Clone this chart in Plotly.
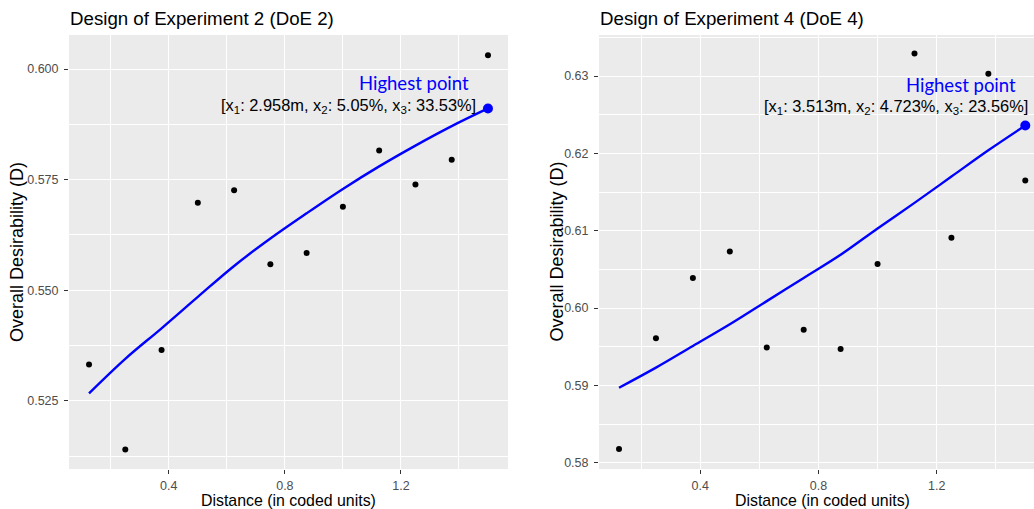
import plotly.graph_objects as go

# ---- data ----
x_coded = [0.125, 0.25, 0.375, 0.5, 0.625, 0.75, 0.875, 1.0, 1.125, 1.25, 1.375, 1.5]
doe2_D = [0.5332, 0.5140, 0.5365, 0.5698, 0.5726, 0.5559, 0.5584, 0.5689, 0.5816, 0.5739, 0.5795, 0.6031]
doe2_fit = [0.5267, 0.5345, 0.5414, 0.5485, 0.5555, 0.5617, 0.5674, 0.5729, 0.5780, 0.5827, 0.5871, 0.5911]
doe4_D = [0.5818, 0.5961, 0.6039, 0.6073, 0.5949, 0.5972, 0.5947, 0.6057, 0.6329, 0.6091, 0.6303, 0.6165]
doe4_fit = [0.5897, 0.5923, 0.5951, 0.5979, 0.6009, 0.6039, 0.6069, 0.6103, 0.6136, 0.6170, 0.6204, 0.6236]

x_ticks = [0.4, 0.8, 1.2]
x_minor = [0.2, 0.6, 1.0, 1.4]
doe2_yticks = [0.525, 0.550, 0.575, 0.600]
doe2_yminor = [0.5125, 0.5375, 0.5625, 0.5875]
doe4_yticks = [0.58, 0.59, 0.60, 0.61, 0.62, 0.63]
doe4_yminor = [0.585, 0.595, 0.605, 0.615, 0.625, 0.635]

titles = ["Design of Experiment 2 (DoE 2)", "Design of Experiment 4 (DoE 4)"]
best_labels = ["[x<sub>1</sub>: 2.958m, x<sub>2</sub>: 5.05%, x<sub>3</sub>: 33.53%]",
               "[x<sub>1</sub>: 3.513m, x<sub>2</sub>: 4.723%, x<sub>3</sub>: 23.56%]"]

W, H = 1034, 509
BG = "#EBEBEB"
FONT = "Liberation Sans, Arial, sans-serif"

fig = go.Figure()

panels = [
    dict(D=doe2_D, fit=doe2_fit, xa="x", ya="y", yt=doe2_yticks, ym=doe2_yminor,
         yfmt=".3f", xr=[0.056, 1.569], yr=[0.5096, 0.6077], dom=[69 / W, 508 / W]),
    dict(D=doe4_D, fit=doe4_fit, xa="x2", ya="y2", yt=doe4_yticks, ym=doe4_yminor,
         yfmt=".2f", xr=[0.0572, 1.5295], yr=[0.5792, 0.6353], dom=[599 / W, 1.0]),
]

for p in panels:
    fig.add_trace(go.Scatter(x=x_coded, y=p["fit"], mode="lines", xaxis=p["xa"], yaxis=p["ya"],
                             line=dict(color="#0000FF", width=2.4, shape="spline"),
                             showlegend=False, hoverinfo="skip"))
    fig.add_trace(go.Scatter(x=x_coded, y=p["D"], mode="markers", xaxis=p["xa"], yaxis=p["ya"],
                             marker=dict(color="black", size=6), showlegend=False))
    fig.add_trace(go.Scatter(x=[x_coded[-1]], y=[p["fit"][-1]], mode="markers",
                             xaxis=p["xa"], yaxis=p["ya"],
                             marker=dict(color="#0000FF", size=10), showlegend=False))

tick_font = dict(family=FONT, size=12.5, color="#4D4D4D")

for i, p in enumerate(panels):
    sx = "" if i == 0 else "2"
    fig.update_layout(**{
        "xaxis" + sx: dict(showline=False, zeroline=False, gridcolor="white", gridwidth=1.1,
                           ticks="outside", ticklen=4, tickcolor="#333333", tickwidth=1,
                           tickfont=tick_font,
                           domain=p["dom"], range=p["xr"], anchor="y" + sx,
                           tickmode="array", tickvals=x_ticks,
                           ticktext=[f"{v:.1f}" for v in x_ticks], ticklabelstandoff=1,
                           minor=dict(tickmode="array", tickvals=x_minor, showgrid=True,
                                      gridcolor="white", gridwidth=0.55, ticks="")),
        "yaxis" + sx: dict(showline=False, zeroline=False, gridcolor="white", gridwidth=1.1,
                           ticks="outside", ticklen=4, tickcolor="#333333", tickwidth=1,
                           tickfont=tick_font,
                           domain=[0, 1], range=p["yr"], anchor="x" + sx,
                           tickmode="array", tickvals=p["yt"], ticklabelstandoff=3,
                           ticktext=[format(v, p["yfmt"]) for v in p["yt"]],
                           minor=dict(tickmode="array", tickvals=p["ym"], showgrid=True,
                                      gridcolor="white", gridwidth=0.55, ticks="")),
    })

annotations = []
# panel titles
for t, x0 in zip(titles, [68, 598]):
    annotations.append(dict(text=t, xref="paper", yref="paper", x=x0 / W, y=1 + 17 / 434,
                            xanchor="left", yanchor="middle", showarrow=False,
                            font=dict(family=FONT, size=18.7, color="black")))
# axis titles
for xc in [288.5 / W, 822.7 / W]:
    annotations.append(dict(text="Distance (in coded units)", xref="paper", yref="paper",
                            x=xc, y=-31 / 434, xanchor="center", yanchor="middle",
                            showarrow=False, font=dict(family=FONT, size=15.9, color="black")))
for xc in [17 / W, 556.5 / W]:
    annotations.append(dict(text="Overall Desirability (D)", xref="paper", yref="paper",
                            x=xc, y=0.5, xanchor="center", yanchor="middle", textangle=-90,
                            showarrow=False, font=dict(family=FONT, size=18, color="black")))
# highest point labels
hp = [dict(xa="x", ya="y", hx=1.4415, hy=0.5968, bx=1.4650, by=0.5916),
      dict(xa="x2", ya="y2", hx=1.4760, hy=0.6288, bx=1.5170, by=0.6260)]
for h, lbl in zip(hp, best_labels):
    annotations.append(dict(text="Highest point", xref=h["xa"], yref=h["ya"], x=h["hx"], y=h["hy"],
                            xanchor="right", yanchor="middle", showarrow=False,
                            font=dict(family="Lato, Open Sans, sans-serif", size=18.5, color="#0000FF")))
    annotations.append(dict(text=lbl, xref=h["xa"], yref=h["ya"], x=h["bx"], y=h["by"],
                            xanchor="right", yanchor="middle", showarrow=False,
                            font=dict(family=FONT, size=16.4, color="black")))

fig.update_layout(width=W, height=H, margin=dict(l=0, r=0, t=35, b=40),
                  paper_bgcolor="white", plot_bgcolor=BG, annotations=annotations,
                  font=dict(family=FONT))

fig.write_html("out.html")
